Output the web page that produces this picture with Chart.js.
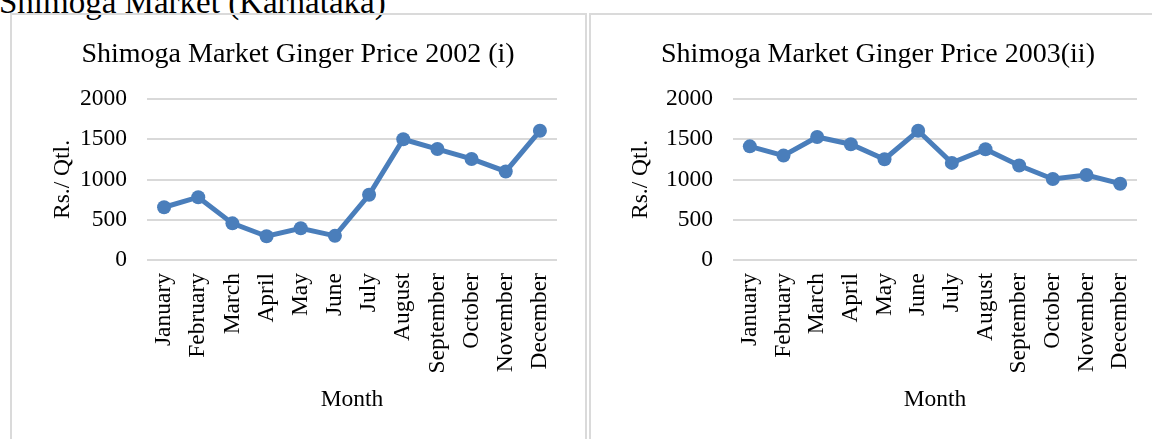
<!DOCTYPE html>
<html>
<head>
<meta charset="utf-8">
<script src="https://cdn.jsdelivr.net/npm/chart.js@4.4.1/dist/chart.umd.min.js"></script>
<style>
  body { margin: 0; width: 1152px; height: 439px; overflow: hidden; background: #fff; position: relative;
         font-family: "Liberation Serif", "Times New Roman", serif; }
  .heading { position: absolute; left: -1px; top: -14px; font-size: 33px; line-height: 33px; color: #000; white-space: nowrap; }
  .panel { position: absolute; top: 13px; height: 440px; border: 2px solid #dadada; border-bottom: none; box-sizing: border-box; }
  canvas { position: absolute; top: 15px; }
</style>
</head>
<body>
<div class="heading">Shimoga Market (Karnataka)</div>
<div class="panel" style="left:10px; width:577px;"></div>
<div class="panel" style="left:589px; width:600px;"></div>
<canvas id="chart2002" width="574" height="424" style="left:12px;"></canvas>
<canvas id="chart2003" width="574" height="424" style="left:591px;"></canvas>
<script>
const months = ["January", "February", "March", "April", "May", "June",
                "July", "August", "September", "October", "November", "December"];
const price2002 = [655, 780, 455, 295, 395, 300, 810, 1500, 1378, 1255, 1100, 1605];
const price2003 = [1412, 1297, 1528, 1438, 1252, 1605, 1206, 1376, 1173, 1006, 1056, 948];
const yTicks = [0, 500, 1000, 1500, 2000];

const serif = '"Liberation Serif", "Times New Roman", serif';
const blue = "#4a7ebb";

// padLeft shifts the centred title, axisWidth fixes where the plot starts
function makeChart(id, title, values, padLeft, axisWidth, yTitlePad, padRight) {
    const ctx = document.getElementById(id).getContext("2d");
    return new Chart(ctx, {
        type: "line",
        data: {
            labels: months,
            datasets: [{
                data: values,
                borderColor: blue,
                backgroundColor: blue,
                borderWidth: 5,
                tension: 0,
                pointRadius: 7,
                pointBorderWidth: 0,
                pointBackgroundColor: blue
            }]
        },
        options: {
            responsive: false,
            devicePixelRatio: 1,
            animation: false,
            layout: { padding: { left: padLeft, right: padRight, top: 0, bottom: 0 } },
            plugins: {
                legend: { display: false },
                tooltip: { enabled: false },
                title: {
                    display: true,
                    text: title,
                    color: "#000",
                    font: { family: serif, size: 28, weight: "normal" },
                    padding: { top: 23, bottom: 27.4 }
                }
            },
            scales: {
                x: {
                    offset: true,
                    grid: { display: false },
                    border: { display: false },
                    ticks: {
                        color: "#000",
                        font: { family: serif, size: 23.5 },
                        minRotation: 90,
                        maxRotation: 90,
                        autoSkip: false,
                        padding: 5
                    },
                    title: {
                        display: true,
                        text: "Month",
                        color: "#000",
                        font: { family: serif, size: 23.5 },
                        padding: { top: 0, bottom: 25 }
                    },
                    afterFit: s => { s.height = 179; }
                },
                y: {
                    min: 0,
                    max: 2000,
                    afterBuildTicks: s => { s.ticks = yTicks.map(v => ({ value: v })); },
                    grid: { color: "#d9d9d9", lineWidth: 2, drawTicks: false },
                    border: { display: false },
                    ticks: {
                        color: "#000",
                        font: { family: serif, size: 23.5 },
                        padding: 20,
                        callback: v => String(v)
                    },
                    title: {
                        display: true,
                        text: "Rs./ Qtl.",
                        color: "#000",
                        font: { family: serif, size: 23.5 },
                        padding: { top: yTitlePad, bottom: 0 }
                    },
                    afterFit: s => { s.width = axisWidth; }
                }
            }
        }
    });
}

makeChart("chart2002", "Shimoga Market Ginger Price 2002 (i)", price2002, 27, 108, 10, 29);
makeChart("chart2003", "Shimoga Market Ginger Price 2003(ii)", price2003, 28, 114, 8, 28);
</script>
</body>
</html>
